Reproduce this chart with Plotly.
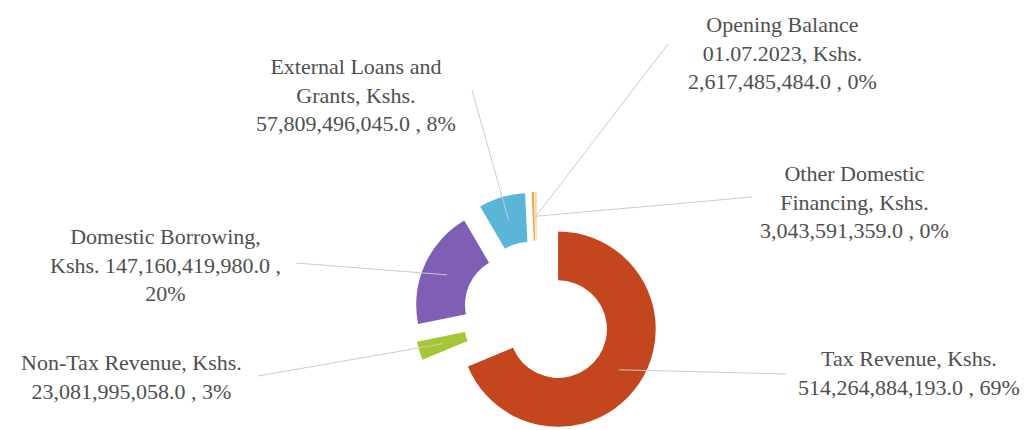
import math
import plotly.graph_objects as go

# ---------------- data ----------------
categories = ["Tax Revenue", "Non-Tax Revenue", "Domestic Borrowing",
              "External Loans and Grants", "Other Domestic Financing",
              "Opening Balance 01.07.2023"]
values = [514264884193.0, 23081995058.0, 147160419980.0,
          57809496045.0, 3043591359.0, 2617485484.0]
label_templates = [
    "Tax Revenue, Kshs.<br>{v} , {p}",
    "Non-Tax Revenue, Kshs.<br>{v} , {p}",
    "Domestic Borrowing,<br>Kshs. {v} ,<br>{p}",
    "External Loans and<br>Grants, Kshs.<br>{v} , {p}",
    "Other Domestic<br>Financing, Kshs.<br>{v} , {p}",
    "Opening Balance<br>01.07.2023, Kshs.<br>{v} , {p}",
]
colors = ["#C4461F", "#A6C735", "#7F5FB3", "#5BB5D6", "#F0A94A", "#F3D7A6"]

# ---------------- layout constants ----------------
W, H = 1028, 430
M = 8                # page (body) margin offset of the rendered figure
PULL = 0.26
HOLE = 0.5
CX_VIS, CY_VIS = 537, 315     # pie centre as seen on the page
BOX_H = 2 * (H - (CY_VIS - M))
BOX_W = 320
label_pos = [(909, 373), (131, 377), (165, 265), (356, 95), (854, 202), (782, 53)]
leader_start = [(786, 374), (258, 376), (296, 263), (472, 90), (752, 197), (668, 44)]

total = sum(values)
texts = [t.format(v=f"{v:,.1f}", p=f"{round(v / total * 100):.0f}%")
         for t, v in zip(label_templates, values)]

cx_fig = CX_VIS - M
cy_fig = CY_VIS - M
dom_x = [(cx_fig - BOX_W / 2) / W, (cx_fig + BOX_W / 2) / W]
dom_y = [0, BOX_H / H]

# geometry as plotly computes it
r = min(BOX_W, BOX_H) / (2 + 2 * PULL)


def vis_to_paper(x, y):
    return (x - M) / W, 1 - (y - M) / H


fig = go.Figure(go.Pie(
    labels=categories, values=values, sort=False, direction="clockwise",
    rotation=0, hole=HOLE, pull=[PULL] * len(values),
    marker=dict(colors=colors, line=dict(width=0)),
    textinfo="none", showlegend=False,
    domain=dict(x=dom_x, y=dom_y),
))

# leader lines and labels
cum = 0.0
for i, v in enumerate(values):
    mid = (cum + v / 2) / total * 2 * math.pi
    cum += v
    rho = PULL * r + 0.75 * r
    ex = CX_VIS + rho * math.sin(mid)
    ey = CY_VIS - rho * math.cos(mid)
    x0, y0 = vis_to_paper(*leader_start[i])
    x1, y1 = vis_to_paper(ex, ey)
    fig.add_shape(type="line", xref="paper", yref="paper", x0=x0, y0=y0, x1=x1, y1=y1,
                  line=dict(color="#C9CBCE", width=1))
    lx, ly = vis_to_paper(*label_pos[i])
    fig.add_annotation(x=lx, y=ly, xref="paper", yref="paper", text=texts[i],
                       showarrow=False, xanchor="center", yanchor="middle", align="center",
                       font=dict(family="Liberation Serif", size=22, color="#4F4F4F"))

fig.update_layout(width=W, height=H, margin=dict(l=0, r=0, t=0, b=0),
                  paper_bgcolor="white", plot_bgcolor="white")
fig.write_html("out.html")
